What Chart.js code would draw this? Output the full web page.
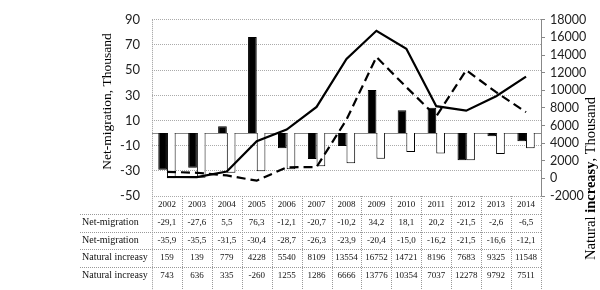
<!DOCTYPE html>
<html>
<head>
<meta charset="utf-8">
<script src="https://cdn.jsdelivr.net/npm/chart.js@4"></script>
<style>
  html, body { margin: 0; padding: 0; background: #fff; }
  #wrap { width: 600px; height: 290px; }
</style>
</head>
<body>
<div id="wrap"><canvas id="chart" width="600" height="290"></canvas></div>
<script>
const years = ['2002', '2003', '2004', '2005', '2006', '2007', '2008', '2009', '2010', '2011', '2012', '2013', '2014'];
const netMigration1 = [-29.1, -27.6, 5.5, 76.3, -12.1, -20.7, -10.2, 34.2, 18.1, 20.2, -21.5, -2.6, -6.5];
const netMigration2 = [-35.9, -35.5, -31.5, -30.4, -28.7, -26.3, -23.9, -20.4, -15.0, -16.2, -21.5, -16.6, -12.1];
const naturalIncrease1 = [159, 139, 779, 4228, 5540, 8109, 13554, 16752, 14721, 8196, 7683, 9325, 11548];
const naturalIncrease2 = [743, 636, 335, -260, 1255, 1286, 6666, 13776, 10354, 7037, 12278, 9792, 7511];
const rowLabels = ['Net-migration', 'Net-migration', 'Natural increasy', 'Natural increasy'];
const leftTicks = [-50, -30, -10, 10, 30, 50, 70, 90];
const rightTicks = [-2000, 0, 2000, 4000, 6000, 8000, 10000, 12000, 14000, 16000, 18000];

const serif = '"Liberation Serif", "Times New Roman", serif';

// zero line + data table under the plot + axis titles
const tablePlugin = {
  id: 'dataTable',
  beforeDatasetsDraw(chart) {
    const { ctx, chartArea: a, scales } = chart;
    const y0 = Math.round(scales.y.getPixelForValue(0)) + 0.5;
    ctx.save();
    ctx.strokeStyle = '#888';
    ctx.lineWidth = 1;
    ctx.beginPath();
    ctx.moveTo(a.left, y0);
    ctx.lineTo(a.right, y0);
    ctx.stroke();
    ctx.restore();
  },
  afterDraw(chart) {
    const { ctx, chartArea: a, scales } = chart;
    const rows = [netMigration1, netMigration2, naturalIncrease1, naturalIncrease2];
    const step = (a.right - a.left) / years.length;
    const top = a.bottom;
    const headH = 18, rowH = 17.5, labelLeft = 80;

    ctx.save();
    ctx.strokeStyle = '#999';
    ctx.lineWidth = 1;
    ctx.setLineDash([1, 1]);
    for (let i = 0; i <= years.length; i++) {
      const xx = Math.round(a.left + i * step) + 0.5;
      ctx.beginPath();
      ctx.moveTo(xx, i === 0 ? a.top : top);
      ctx.lineTo(xx, 290);
      ctx.stroke();
    }
    for (let r = 0; r < rows.length; r++) {
      const yy = Math.round(top + headH + r * rowH) + 0.5;
      ctx.beginPath();
      ctx.moveTo(labelLeft, yy);
      ctx.lineTo(a.right, yy);
      ctx.stroke();
    }
    ctx.setLineDash([]);

    ctx.fillStyle = '#111';
    ctx.textBaseline = 'middle';
    ctx.textAlign = 'center';
    ctx.font = '9px ' + serif;
    years.forEach((yr, i) => {
      const cx = scales.x.getPixelForValue(i);
      ctx.fillText(yr, cx, top + headH / 2);
      rows.forEach((row, r) => {
        const v = row[i];
        const txt = r < 2 ? v.toFixed(1).replace('.', ',') : String(v);
        ctx.fillText(txt, cx, top + headH + r * rowH + rowH / 2);
      });
    });
    ctx.textAlign = 'left';
    ctx.font = '10px ' + serif;
    rowLabels.forEach((lab, r) => {
      ctx.fillText(lab, labelLeft + 2, top + headH + r * rowH + rowH / 2);
    });

    // left axis title
    ctx.fillStyle = '#000';
    ctx.textAlign = 'center';
    ctx.font = '13.5px ' + serif;
    ctx.save();
    ctx.translate(107, 101.5);
    ctx.rotate(-Math.PI / 2);
    ctx.fillText('Net-migration, Thousand', 0, 0);
    ctx.restore();

    // right axis title, middle word in bold
    const parts = [['Natural ', 'normal'], ['increasy', 'bold'], [', Thousand', 'normal']];
    let total = 0;
    parts.forEach(p => { ctx.font = p[1] + ' 14.5px ' + serif; total += ctx.measureText(p[0]).width; });
    ctx.save();
    ctx.translate(591, 178.5);
    ctx.rotate(-Math.PI / 2);
    ctx.textAlign = 'left';
    let px = -total / 2;
    parts.forEach(p => {
      ctx.font = p[1] + ' 14.5px ' + serif;
      ctx.fillText(p[0], px, 0);
      px += ctx.measureText(p[0]).width;
    });
    ctx.restore();
    ctx.restore();
  }
};

new Chart(document.getElementById('chart').getContext('2d'), {
  type: 'bar',
  data: {
    labels: years,
    datasets: [
      {
        type: 'bar', label: 'Net-migration', data: netMigration1, yAxisID: 'y',
        backgroundColor: '#000', borderColor: '#000', borderWidth: 1,
        categoryPercentage: 0.58, barPercentage: 1, order: 2
      },
      {
        type: 'bar', label: 'Net-migration', data: netMigration2, yAxisID: 'y',
        backgroundColor: '#fff', borderColor: '#000', borderWidth: 1,
        categoryPercentage: 0.58, barPercentage: 1, order: 2
      },
      {
        type: 'line', label: 'Natural increasy', data: naturalIncrease1, yAxisID: 'y2',
        borderColor: '#000', borderWidth: 2.2, pointRadius: 0, tension: 0, fill: false, order: 1
      },
      {
        type: 'line', label: 'Natural increasy', data: naturalIncrease2, yAxisID: 'y2',
        borderColor: '#000', borderWidth: 2.2, borderDash: [9, 5], pointRadius: 0, tension: 0, fill: false, order: 1
      }
    ]
  },
  options: {
    responsive: false,
    animation: false,
    layout: { padding: { top: 11, bottom: 94, left: 0, right: 0 } },
    plugins: { legend: { display: false }, tooltip: { enabled: false } },
    scales: {
      x: { display: false, offset: true },
      y: {
        position: 'left', min: -50, max: 90,
        afterBuildTicks: s => { s.ticks = leftTicks.map(v => ({ value: v })); },
        afterFit: s => { s.width = 152; },
        grid: { color: '#aaa', drawTicks: false },
        border: { display: false, dash: [1, 1] },
        ticks: { padding: 12, autoSkip: false, color: '#222', font: { family: 'Lato', size: 13 }, callback: v => String(v) }
      },
      y2: {
        position: 'right', min: -2000, max: 18000,
        afterBuildTicks: s => { s.ticks = rightTicks.map(v => ({ value: v })); },
        afterFit: s => { s.width = 59; },
        grid: { drawOnChartArea: false, drawTicks: true, tickLength: 4, color: '#888' },
        border: { display: true, color: '#888' },
        ticks: { padding: 5, autoSkip: false, color: '#222', font: { family: 'Lato', size: 12.5 }, callback: v => String(v) }
      }
    }
  },
  plugins: [tablePlugin]
});
</script>
</body>
</html>
